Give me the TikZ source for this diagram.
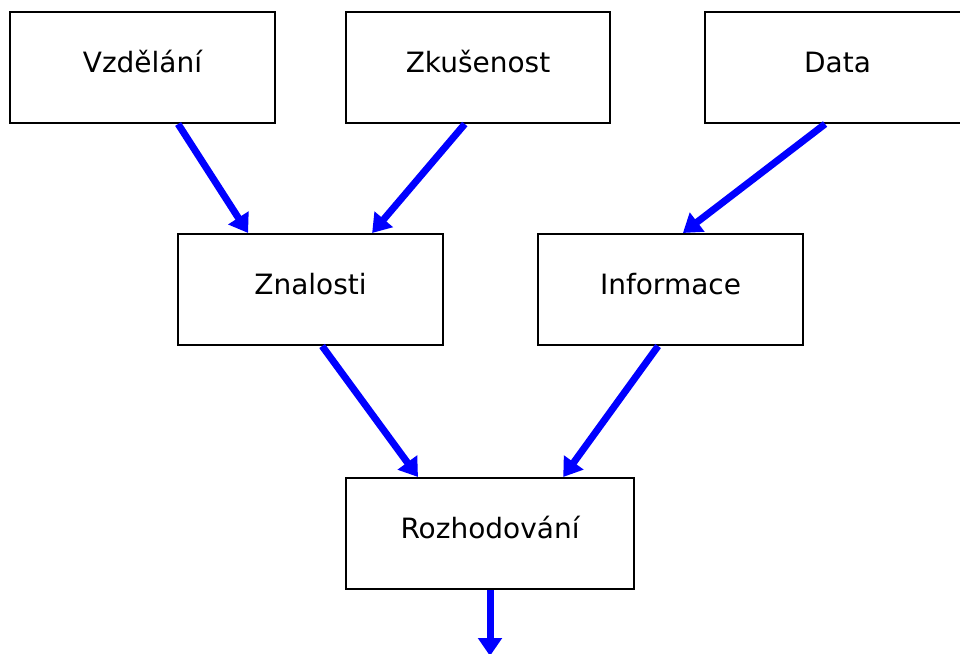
\documentclass[tikz,border=0pt]{standalone}
\usepackage{fontspec}
\setmainfont{DejaVu Sans}
\usetikzlibrary{arrows.meta}

\begin{document}
\begin{tikzpicture}[
        x=0.025cm, y=-0.025cm,
        box/.style={rectangle, draw, line width=0.05cm,
                    minimum width=6.62cm, minimum height=2.775cm,
                    text height=0.52cm, text depth=0.26cm,
                    font=\fontsize{19.9}{24}\selectfont},
        link/.style={-{Triangle[length=0.45cm, width=0.58cm]},
                     line width=0.175cm, blue}
      ]
      \useasboundingbox (0,0) rectangle (960,653);

      \node[box] (vzdel) at (142.5,67.5) {Vzdělání};
      \node[box] (zkus) at (478,67.5) {Zkušenost};
      \node[box] (data) at (837.5,67.5) {Data};
      \node[box] (znal) at (310.5,289.5) {Znalosti};
      \node[box] (info) at (670.5,289.5) {Informace};
      \node[box, minimum width=7.2cm] (rozh) at (490,533.5) {Rozhodování};
      \coordinate (out) at (490,656);

      \draw[link] ([xshift=0.89cm]vzdel.south) -- ([xshift=-1.56cm]znal.north);
      \draw[link] ([xshift=-0.33cm]zkus.south) -- ([xshift=1.54cm]znal.north);
      \draw[link] ([xshift=-0.31cm]data.south) -- ([xshift=0.31cm]info.north);
      \draw[link] ([xshift=0.29cm]znal.south) -- ([xshift=-1.8cm]rozh.north);
      \draw[link] ([xshift=-0.31cm]info.south) -- ([xshift=1.83cm]rozh.north);
      \draw[link] (rozh.south) -- (out);
    \end{tikzpicture}
\end{document}
